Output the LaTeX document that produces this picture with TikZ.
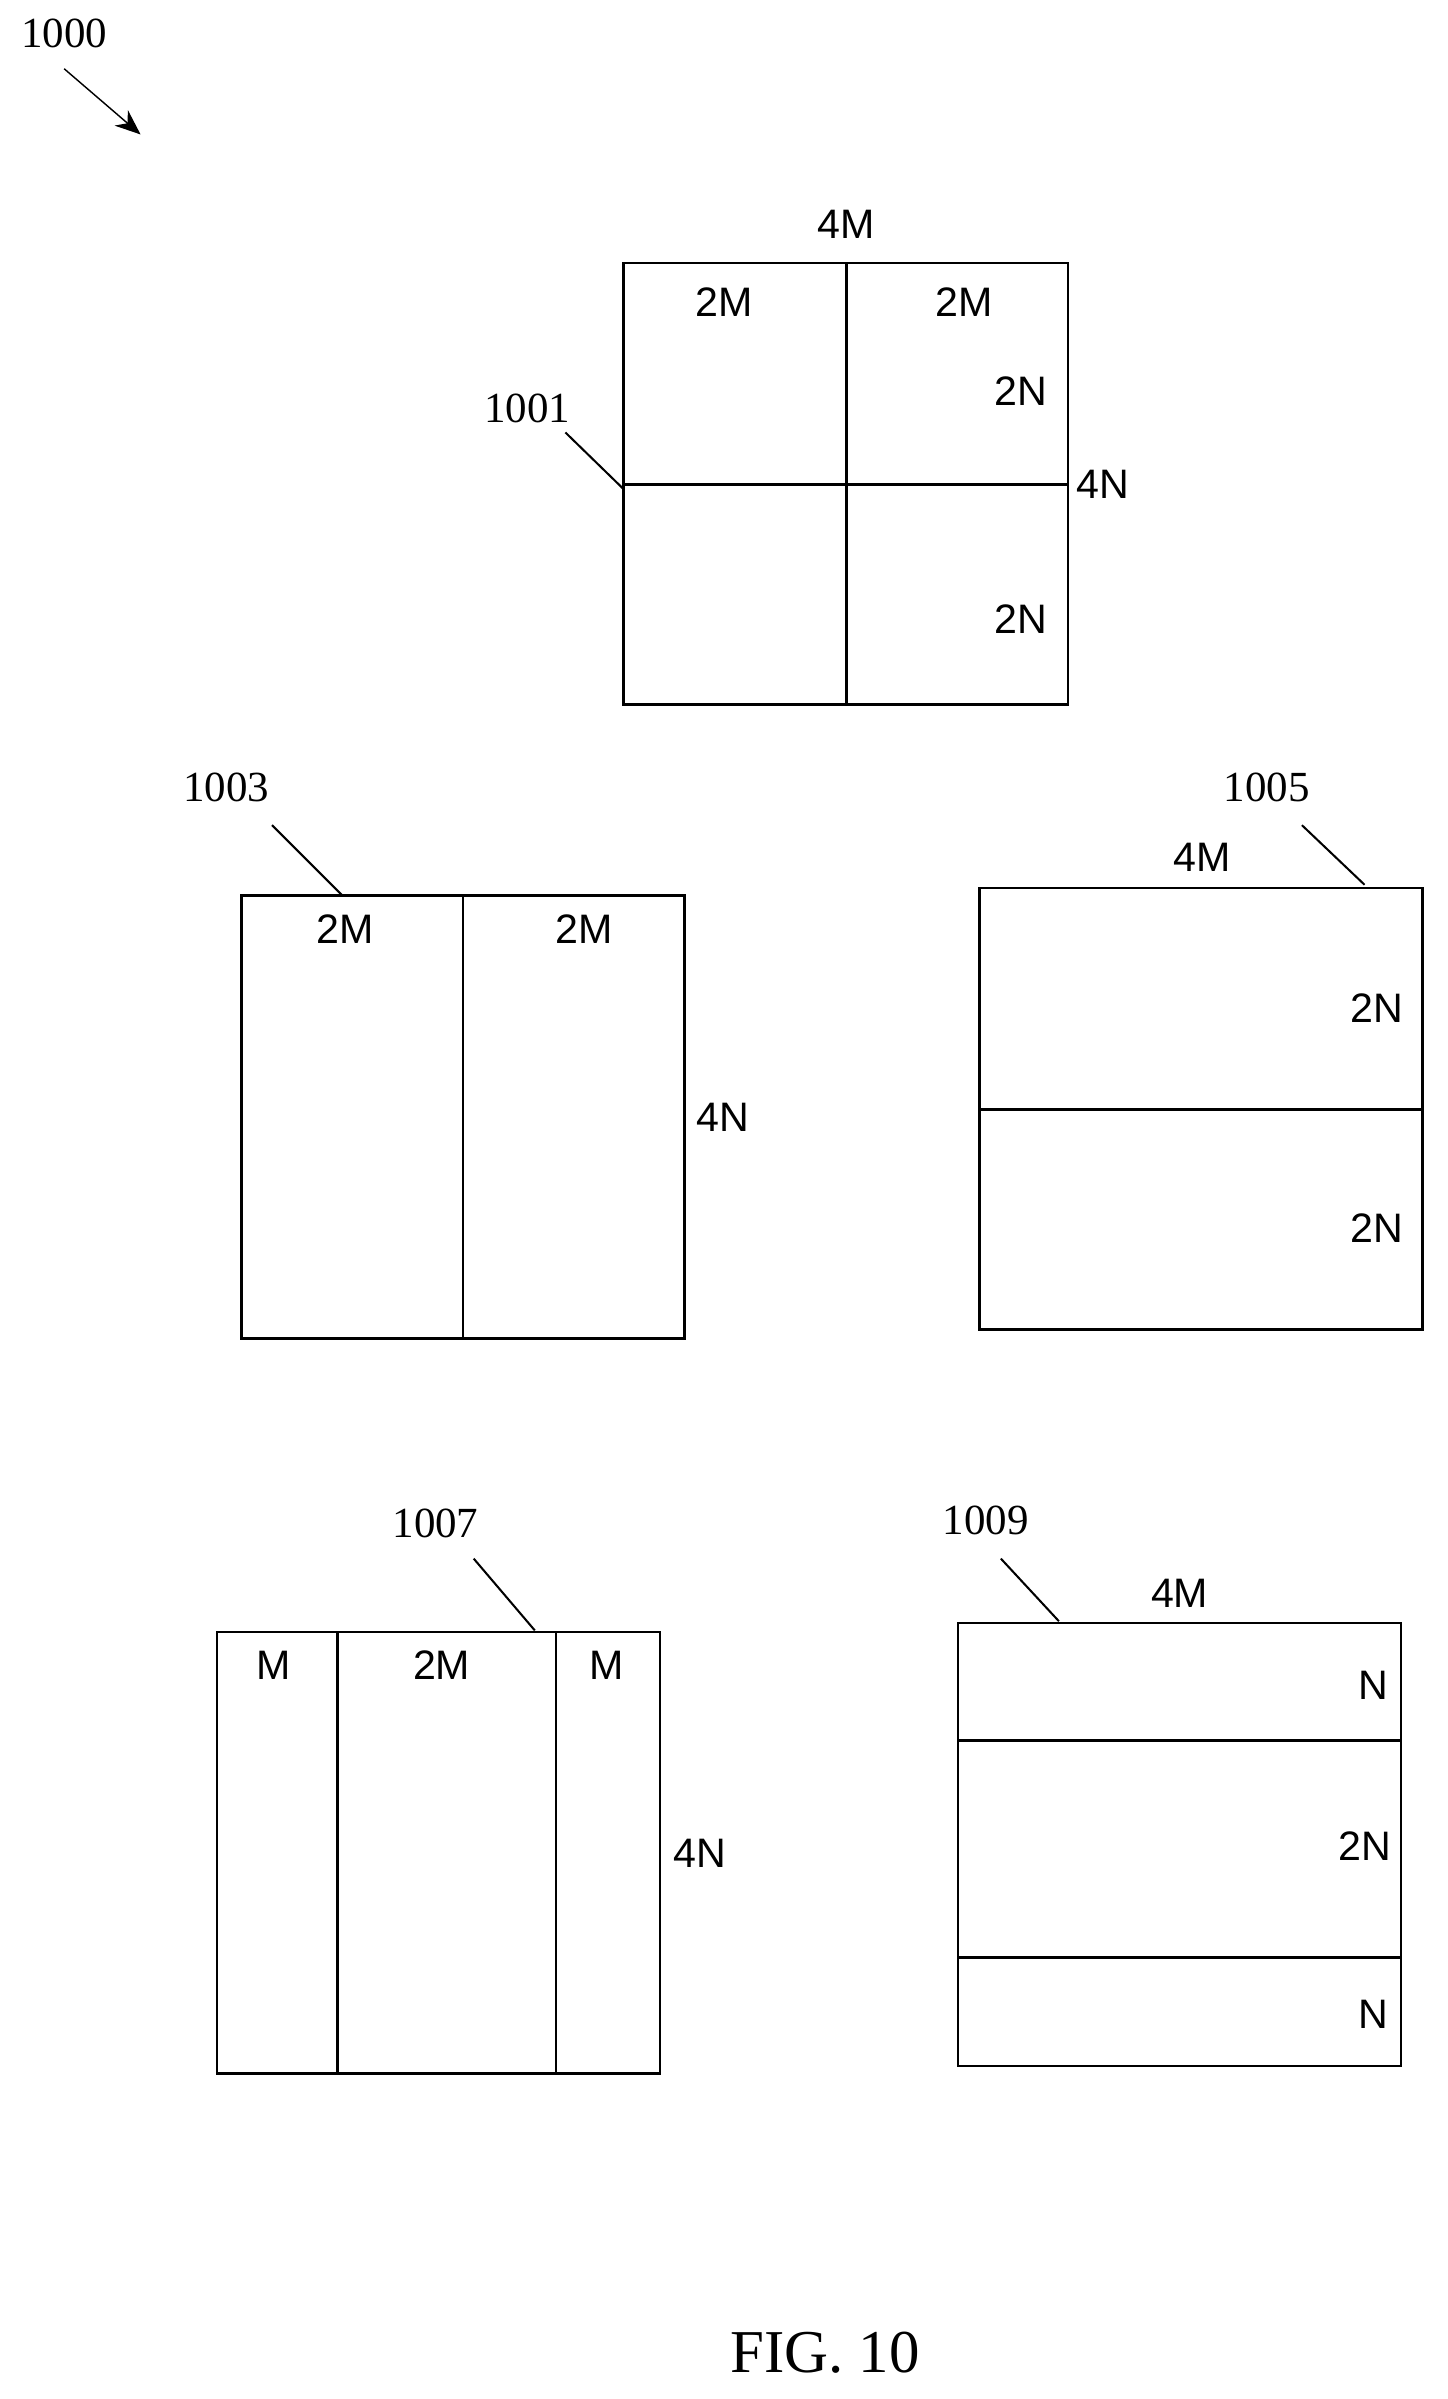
\documentclass[tikz,border=0pt]{standalone}
\usepackage{fontspec}
\setmainfont{Liberation Serif}
\setsansfont{Liberation Sans}
\usetikzlibrary{arrows.meta, positioning}
\tikzstyle{arrow} = [thick, -{Stealth[length=5mm, width=4mm]}]
\tikzstyle{block} = [draw=black, line width=0.5mm]
\tikzstyle{dim} = [font=\sffamily\fontsize{23}{23}\selectfont]
\tikzstyle{refnum} = [font=\fontsize{24}{24}\selectfont]
\tikzstyle{leader} = [line width=0.4mm]

\begin{document}
\begin{tikzpicture}[x=0.3mm, y=-0.3mm]
\useasboundingbox (0,0) rectangle (947,1570);

% overall label:
\node(fig)[refnum] at (42,22) {1000};
\coordinate (figtip) at (92,88);
\draw[arrow] (42,45) -- (figtip);

% 1001 quad split:
\draw[block] (408,172) rectangle (699,461);
\draw[block] (554,172) -- (554,461);
\draw[block] (408,317) -- (699,317);
\node(qw)[dim] at (554,147) {4M};
\node(qa)[dim] at (474,198) {2M};
\node(qb)[dim] at (631,198) {2M};
\node(qc)[dim] at (668,256) {2N};
\node(qh)[dim] at (722,317) {4N};
\node(qd)[dim] at (668,405) {2N};
\node(n1001)[refnum] at (345,267) {1001};
\coordinate (t1001) at (408,320);
\draw[leader] (370,283) -- (t1001);

% 1003 vertical split:
\draw[block] (158,586) rectangle (448,876);
\draw[block] (303,586) -- (303,876);
\node(va)[dim] at (226,608) {2M};
\node(vb)[dim] at (382,608) {2M};
\node(vh)[dim] at (473,731) {4N};
\node(n1003)[refnum] at (148,515) {1003};
\coordinate (t1003) at (224,586);
\draw[leader] (178,540) -- (t1003);

% 1005 horizontal split:
\draw[block] (641,581) rectangle (931,870);
\draw[block] (641,726) -- (931,726);
\node(hw)[dim] at (787,561) {4M};
\node(ha)[dim] at (901,660) {2N};
\node(hb)[dim] at (901,804) {2N};
\node(n1005)[refnum] at (829,515) {1005};
\coordinate (t1005) at (893,579);
\draw[leader] (852,540) -- (t1005);

% 1007 vertical triple split:
\draw[block] (142,1068) rectangle (432,1357);
\draw[block] (221,1068) -- (221,1357);
\draw[block] (364,1068) -- (364,1357);
\node(ta)[dim] at (179,1090) {M};
\node(tb)[dim] at (289,1090) {2M};
\node(tc)[dim] at (397,1090) {M};
\node(th)[dim] at (458,1213) {4N};
\node(n1007)[refnum] at (285,997) {1007};
\coordinate (t1007) at (350,1067);
\draw[leader] (310,1020) -- (t1007);

% 1009 horizontal triple split:
\draw[block] (627,1062) rectangle (917,1352);
\draw[block] (627,1139) -- (917,1139);
\draw[block] (627,1281) -- (917,1281);
\node(sw)[dim] at (772,1043) {4M};
\node(sa)[dim] at (899,1103) {N};
\node(sb)[dim] at (893,1208) {2N};
\node(sc)[dim] at (899,1318) {N};
\node(n1009)[refnum] at (645,995) {1009};
\coordinate (t1009) at (693,1061);
\draw[leader] (655,1020) -- (t1009);

% caption:
\node(caption)[font=\fontsize{34}{34}\selectfont] at (540,1540) {FIG. 10};

\end{tikzpicture}
\end{document}
